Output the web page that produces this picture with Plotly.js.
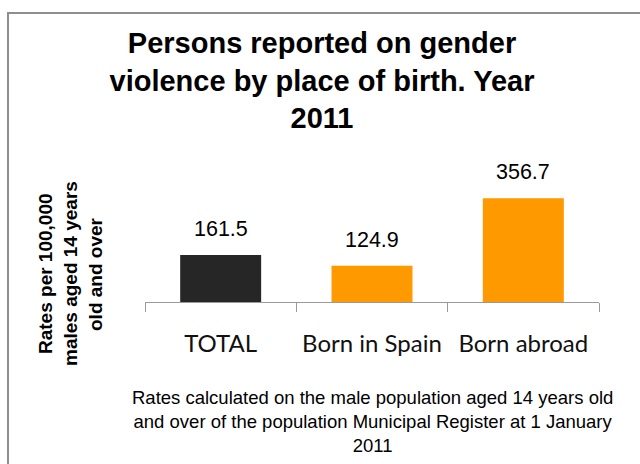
<!DOCTYPE html>
<html>
<head>
<meta charset="utf-8">
<script src="https://cdn.plot.ly/plotly-3.0.1.min.js"></script>
<style>html,body{margin:0;padding:0;background:#fff;overflow:hidden;}#chart{width:640px;height:464px;}</style>
</head>
<body>
<div id="chart"></div>
<script>
const categories = ["TOTAL", "Born in Spain", "Born abroad"];
const rates = [161.5, 124.9, 356.7];
const barColors = ["#262626", "#ff9900", "#ff9900"];
const valueLabels = ["161.5", "124.9", "356.7"];

const titleText = "Persons reported on gender<br>violence by place of birth. Year<br>2011";
const yTitleLines = ["Rates per 100,000", "males aged 14 years", "old and over"];
const noteText = "Rates calculated on the male population aged 14 years old<br>and over of the population Municipal Register at 1 January<br>2011";

const W = 640, H = 464;
const mL = 145, mR = 41, mT = 171, mB = 162;
const pw = W - mL - mR, ph = H - mT - mB;
const px2x = p => (p - mL) / pw;
const py2y = p => (H - mB - p) / ph;

const trace = {
  type: "bar",
  x: categories,
  y: rates,
  marker: {color: barColors, line: {width: 0}},
  width: 0.535,
  hoverinfo: "skip"
};

const annotations = categories.map((c, i) => ({
  x: c, y: rates[i], xref: "x", yref: "y",
  text: valueLabels[i], showarrow: false,
  yanchor: "bottom", yshift: 12,
  font: {family: "Liberation Sans, Arial, sans-serif", size: 21.5, color: "#000"}
}));
annotations.push({
  xref: "paper", yref: "paper", x: 0.5, y: py2y(421),
  xanchor: "center", yanchor: "middle", align: "center",
  text: noteText, showarrow: false,
  font: {family: "Liberation Sans, Arial, sans-serif", size: 18.5, color: "#000"}
});
const yTitleX = [45, 70, 95];
yTitleLines.forEach((t, i) => annotations.push({
  xref: "paper", yref: "paper", x: px2x(yTitleX[i]), y: py2y(274),
  xanchor: "center", yanchor: "middle",
  textangle: -90,
  text: t, showarrow: false,
  font: {family: "Liberation Sans, Arial, sans-serif", size: 19, color: "#000", weight: "bold"}
}));

const borderColor = "#8e8e8e";
const layout = {
  width: W, height: H,
  margin: {l: mL, r: mR, t: mT, b: mB},
  paper_bgcolor: "#ffffff",
  plot_bgcolor: "#ffffff",
  showlegend: false,
  title: {
    text: titleText,
    font: {family: "Liberation Sans, Arial, sans-serif", size: 29, color: "#000", weight: "bold"},
    xref: "container", x: 322 / W, xanchor: "center",
    yref: "container", y: 1 - 53 / H, yanchor: "top"
  },
  xaxis: {
    type: "category",
    range: [-0.5, 2.5],
    showline: true, linecolor: "#9a9a9a", linewidth: 1,
    ticks: "outside", tickson: "boundaries", ticklen: 9, tickcolor: "#9a9a9a", tickwidth: 1,
    tickfont: {family: "Lato, Open Sans, sans-serif", size: 24, color: "#111"},
    ticklabelstandoff: 20,
    showgrid: false, zeroline: false, fixedrange: true
  },
  yaxis: {
    range: [0, 450],
    showline: false, showgrid: false, zeroline: false, showticklabels: false, ticks: "",
    fixedrange: true
  },
  annotations: annotations,
  shapes: [
    {type: "line", xref: "paper", yref: "paper",
     x0: px2x(8), x1: px2x(8), y0: py2y(470), y1: py2y(12),
     line: {color: borderColor, width: 2}, layer: "below"},
    {type: "line", xref: "paper", yref: "paper",
     x0: px2x(7), x1: px2x(650), y0: py2y(13), y1: py2y(13),
     line: {color: borderColor, width: 2}, layer: "below"}
  ]
};

Plotly.newPlot("chart", [trace], layout, {staticPlot: true, displayModeBar: false});
</script>
</body>
</html>
